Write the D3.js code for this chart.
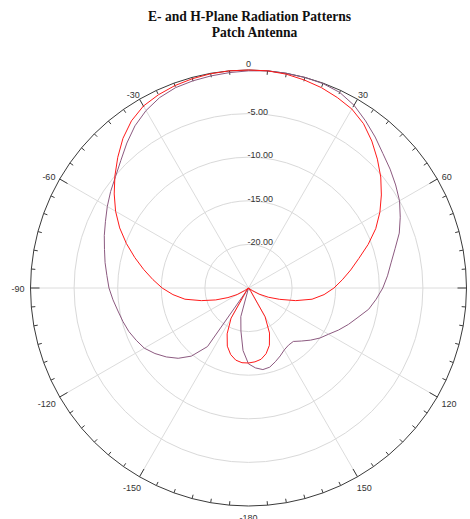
<!DOCTYPE html>
<html>
<head>
<meta charset="utf-8">
<script src="https://cdn.jsdelivr.net/npm/d3@7"></script>
<style>
  html, body { margin: 0; padding: 0; background: #fff; }
  svg { display: block; }
</style>
</head>
<body>
<svg id="chart" width="470" height="519"></svg>
<script>
// Pattern angles in degrees, measured clockwise from boresight (top)
const anglesDeg = d3.range(-180, 181, 5);

// E-plane gain (dB), one value per angle
const ePlaneDb = [
  -16.4, -16.4, -16.6, -17.1, -17.9, -19.2, -21.0, -24.5, -27.0, -27.0,
  -25.5, -24.5, -23.5, -22.4, -21.0, -19.4, -17.6, -16.3, -15.1, -14.0,
  -12.8, -11.5, -10.1, -8.7, -7.4, -6.2, -5.0, -3.8, -2.6, -1.6,
  -0.9, -0.55, -0.3, -0.15, -0.05, 0.0, 0.0, 0.0, -0.1, -0.3,
  -0.55, -0.9, -1.3, -2.0, -3.0, -4.1, -5.2, -6.4, -7.6, -8.9,
  -10.4, -11.9, -13.1, -14.2, -15.2, -16.3, -17.6, -19.4, -21.2, -22.5,
  -23.6, -24.5, -25.5, -27.0, -27.0, -24.5, -21.2, -19.3, -18.0, -17.2,
  -16.7, -16.5, -16.4
];

// H-plane gain (dB), one value per angle
const hPlaneDb = [
  -16.3, -17.8, -20.0, -21.6, -27.0, -28.0, -26.0, -16.8, -14.8, -13.6,
  -12.7, -11.9, -11.2, -10.8, -10.4, -10.1, -9.8, -9.4, -9.0, -8.7,
  -8.3, -7.9, -7.4, -6.9, -6.3, -5.7, -5.1, -4.3, -3.3, -2.3,
  -1.5, -0.9, -0.55, -0.4, -0.3, -0.2, -0.1, 0.0, 0.0, 0.0,
  -0.05, -0.25, -0.8, -1.6, -2.4, -3.2, -3.8, -4.4, -5.0, -5.8,
  -6.6, -7.6, -8.4, -9.0, -9.6, -10.3, -11.0, -12.0, -12.8, -13.6,
  -14.4, -15.0, -15.7, -16.4, -17.0, -17.0, -16.8, -16.4, -16.0, -15.6,
  -15.5, -15.8, -16.3
];

// Grid rings and their labels
const ringLevels = [-5, -10, -15, -20];
const ringLabels = ["-5.00", "-10.00", "-15.00", "-20.00"];

// Angular grid: spokes, outer tick labels
const spokeAngles = [-150, -120, -90, -60, -30, 30, 60, 90, 120, 150];
const tickLabelAngles = [0, 30, 60, 90, 120, 150, 180, -150, -120, -90, -60, -30];
const tickLabels = ["0", "30", "60", "90", "120", "150", "-180", "-150", "-120", "-90", "-60", "-30"];

const titleLines = ["E- and H-Plane Radiation Patterns", "Patch Antenna"];

const cx = 248.5, cy = 288, R = 218;
const svg = d3.select("#chart");
const toRad = d => d * Math.PI / 180;

const r = d3.scaleLinear().domain([-25, 0]).range([0, R]).clamp(true);

// Title
svg.append("g").selectAll("text").data(titleLines).join("text")
  .attr("x", (d, i) => i === 0 ? 249.5 : 254.5)
  .attr("y", (d, i) => i === 0 ? 21 : 36.5)
  .attr("text-anchor", "middle")
  .attr("font-family", "'Liberation Serif', 'Times New Roman', serif")
  .attr("font-weight", "bold")
  .attr("font-size", 13.6)
  .attr("fill", "#111")
  .text(d => d);

const plot = svg.append("g").attr("transform", `translate(${cx},${cy})`);

// Grid rings
plot.append("g").selectAll("circle").data(ringLevels).join("circle")
  .attr("r", d => r(d))
  .attr("fill", "none")
  .attr("stroke", "#d9d9d9")
  .attr("stroke-width", 1);

// Spokes
plot.append("g").selectAll("line").data(spokeAngles).join("line")
  .attr("x1", 0).attr("y1", 0)
  .attr("x2", d => R * Math.sin(toRad(d)))
  .attr("y2", d => -R * Math.cos(toRad(d)))
  .attr("stroke", "#dcdcdc")
  .attr("stroke-width", 1);

// Outer boundary (polygon through the 5-degree tick points)
const rimAngles = d3.range(0, 360, 5);
plot.append("path")
  .attr("d", d3.lineRadial().angle(d => toRad(d)).radius(R).curve(d3.curveLinearClosed)(rimAngles))
  .attr("fill", "none")
  .attr("stroke", "#3a3a3a")
  .attr("stroke-width", 1);

// Ticks on the boundary: long ones at the labelled spokes, short ones every 5 degrees
plot.append("g").selectAll("line")
  .data(rimAngles.filter(d => d !== 0 && d !== 180))
  .join("line")
  .each(function(d) {
    const a = toRad(d);
    const len = d % 30 === 0 ? 9 : 4;
    d3.select(this)
      .attr("x1", R * Math.sin(a)).attr("y1", -R * Math.cos(a))
      .attr("x2", (R - len) * Math.sin(a)).attr("y2", -(R - len) * Math.cos(a));
  })
  .attr("stroke", "#3a3a3a")
  .attr("stroke-width", 1);

// Ring labels
plot.append("g").selectAll("text").data(ringLevels).join("text")
  .attr("x", -1)
  .attr("y", d => -r(d) + 1)
  .attr("font-family", "'Liberation Sans', Arial, sans-serif")
  .attr("font-size", 9)
  .attr("fill", "#333")
  .text((d, i) => ringLabels[i]);

// Angle labels around the boundary
plot.append("g").selectAll("text").data(tickLabelAngles).join("text")
  .attr("font-family", "'Liberation Sans', Arial, sans-serif")
  .attr("font-size", 9)
  .attr("fill", "#333")
  .attr("text-anchor", "middle")
  .attr("dy", "0.35em")
  .text((d, i) => tickLabels[i])
  .each(function(d) {
    const a = toRad(d);
    const s = Math.sin(a), c = Math.cos(a);
    const w = this.getComputedTextLength();
    const x = (R + 6) * s + s * w / 2;
    const y = -(R + 9) * c + 1.3 + 2 * Math.abs(c);
    d3.select(this).attr("x", x).attr("y", y);
  });

// Pattern traces
const trace = d3.lineRadial()
  .angle(d => toRad(d.angle))
  .radius(d => r(d.db))
  .curve(d3.curveLinear);

const ePoints = anglesDeg.map((a, i) => ({ angle: a, db: ePlaneDb[i] }));
const hPoints = anglesDeg.map((a, i) => ({ angle: a, db: hPlaneDb[i] }));

plot.append("path")
  .attr("d", trace(hPoints))
  .attr("fill", "none")
  .attr("stroke", "#8c5a80")
  .attr("stroke-width", 1);

plot.append("path")
  .attr("d", trace(ePoints))
  .attr("fill", "none")
  .attr("stroke", "#ff1a1a")
  .attr("stroke-width", 1);
</script>
</body>
</html>
